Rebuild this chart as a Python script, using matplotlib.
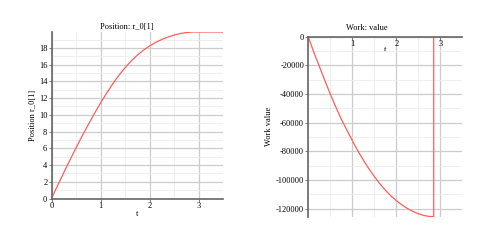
import matplotlib
matplotlib.use('Agg')
import matplotlib.pyplot as plt
from matplotlib.ticker import MultipleLocator

plt.rcParams['font.family'] = ['Liberation Serif', 'DejaVu Serif']
plt.rcParams['font.size'] = 6
plt.rcParams['axes.unicode_minus'] = False

# position r_0[1] over time
t_pos = [0, 0.125, 0.25, 0.375, 0.5, 0.625, 0.75, 0.875, 1.0, 1.125, 1.25, 1.375,
         1.5, 1.625, 1.75, 1.875, 2.0, 2.125, 2.25, 2.375, 2.5, 2.625, 2.75, 2.875, 3.5]
pos = [0, 1.56, 3.09, 4.59, 6.05, 7.47, 8.84, 10.16, 11.42, 12.61, 13.72, 14.74,
       15.64, 16.44, 17.14, 17.74, 18.24, 18.66, 19.01, 19.30, 19.54, 19.72, 19.84,
       19.90, 19.90]

# work value over time (jumps back up at the end)
t_work = [0, 0.125, 0.25, 0.375, 0.5, 0.625, 0.75, 0.875, 1.0, 1.125, 1.25, 1.375,
          1.5, 1.625, 1.75, 1.875, 2.0, 2.125, 2.25, 2.375, 2.5, 2.625, 2.75, 2.85, 2.85]
work = [0, -10800, -20600, -30500, -40000, -49000, -57500, -65000, -72500, -79500,
        -86000, -92000, -97500, -102500, -107000, -111000, -114300, -117300, -119800,
        -121800, -123500, -124700, -125400, -125600, 5000]

red = '#ff5c5c'
major_c = '#cccccc'
minor_c = '#ececec'
spine_c = '#666666'

fig = plt.figure(figsize=(5, 2.5), dpi=100)


def style(ax):
    ax.grid(True, which='major', color=major_c, linewidth=0.9)
    ax.grid(True, which='minor', color=minor_c, linewidth=0.6)
    ax.set_axisbelow(True)
    for s in ['top', 'right']:
        ax.spines[s].set_visible(False)
    for s in ['left', 'bottom']:
        ax.spines[s].set_color(spine_c)
        ax.spines[s].set_linewidth(1.2)
    ax.tick_params(which='both', length=2, width=0.6, color=spine_c, pad=1)
    ax.tick_params(which='minor', length=0)


# left: position
ax1 = fig.add_axes([0.103, 0.206, 0.3436, 0.666])
ax1.plot(t_pos, pos, color=red, linewidth=0.9)
ax1.set_xlim(0, 3.5)
ax1.set_ylim(0, 19.9)
ax1.xaxis.set_major_locator(MultipleLocator(1))
ax1.xaxis.set_minor_locator(MultipleLocator(0.5))
ax1.yaxis.set_major_locator(MultipleLocator(2))
ax1.yaxis.set_minor_locator(MultipleLocator(1))
style(ax1)
ax1.tick_params(axis='x', pad=0.5)
ax1.set_title('Position: r_0[1]', x=0.44, pad=2, fontsize=6)
ax1.set_xlabel('t', labelpad=0)
ax1.set_ylabel('Position r_0[1]', labelpad=1)

# right: work
ax2 = fig.add_axes([0.6166, 0.133, 0.308, 0.72])
ax2.plot(t_work, work, color=red, linewidth=0.9)
ax2.set_xlim(0, 3.5)
ax2.set_ylim(-125600, 0)
ax2.set_xticks([1, 2, 3])
ax2.xaxis.set_minor_locator(MultipleLocator(0.5))
ax2.yaxis.set_major_locator(MultipleLocator(20000))
ax2.yaxis.set_minor_locator(MultipleLocator(10000))
style(ax2)
ax2.tick_params(axis='x', pad=0)
ax2.spines['bottom'].set_position(('data', 0))
ax2.set_title('Work: value', x=0.377, pad=5, fontsize=6)
ax2.set_xlabel('t', labelpad=-1)
ax2.set_ylabel('Work value', labelpad=2)

fig.savefig('out.png', dpi=100)
